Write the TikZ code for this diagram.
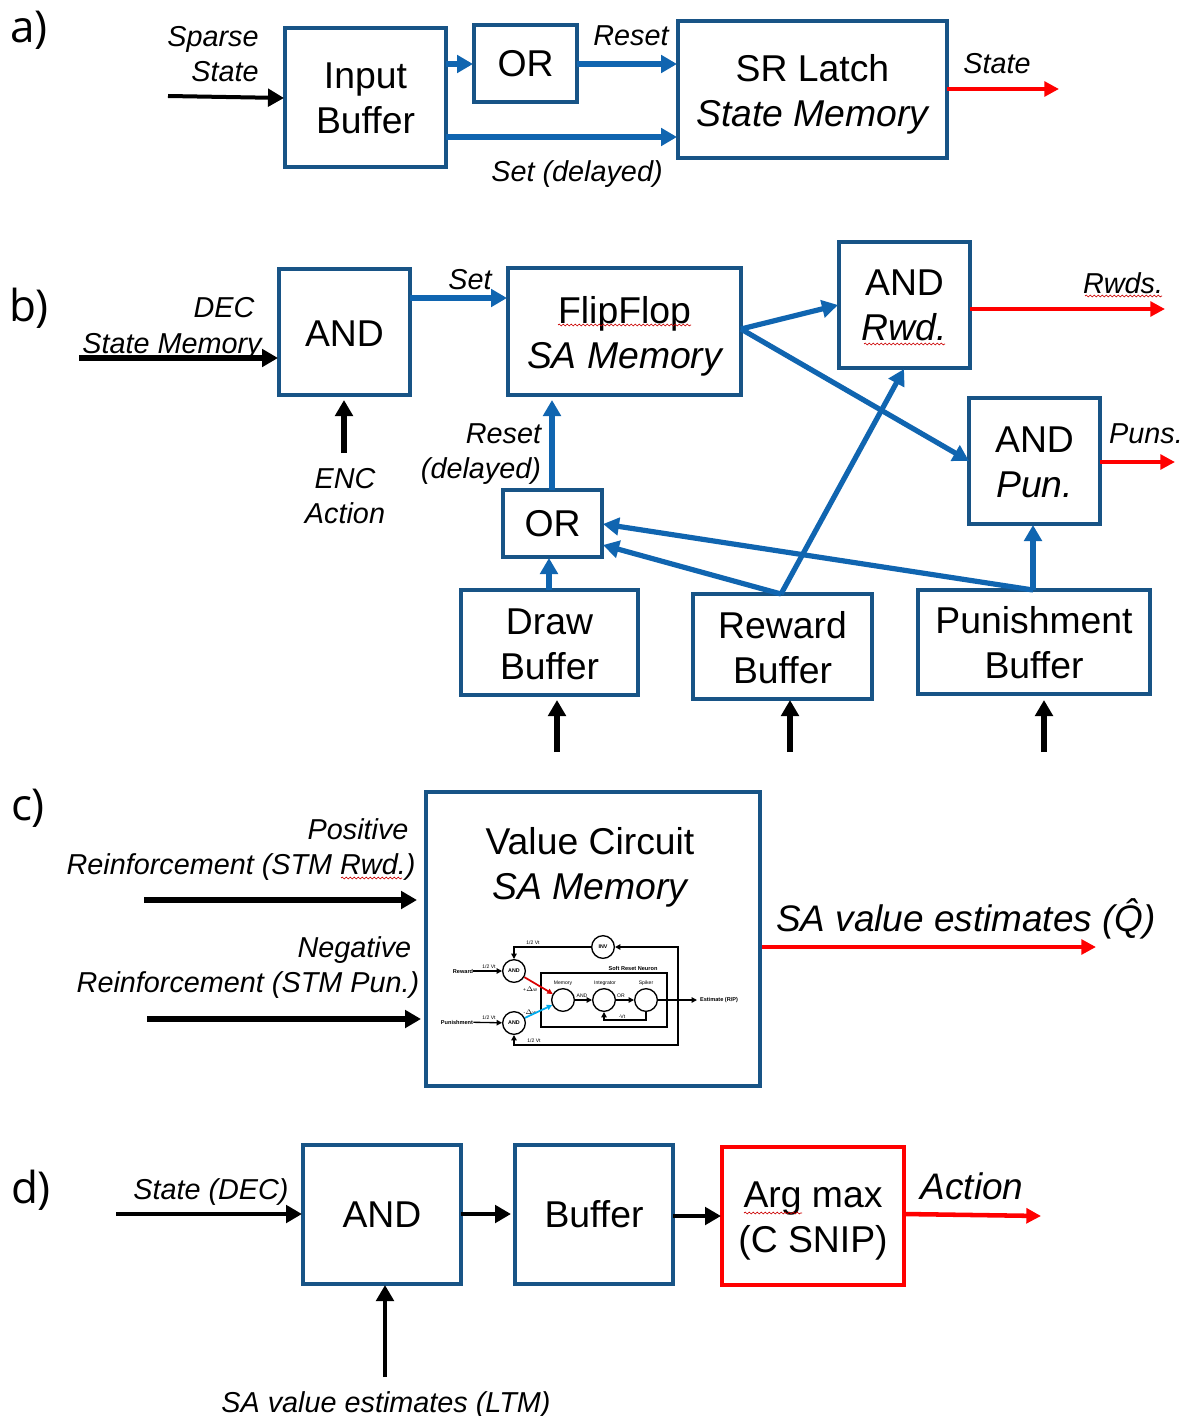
\documentclass[tikz,border=0pt]{standalone}
\usepackage{fontspec}
\setmainfont{Liberation Sans}
\newfontfamily\panelfont{Open Sans}
\usetikzlibrary{arrows.meta,decorations.pathmorphing}
\definecolor{boxblue}{RGB}{24,84,134}
\definecolor{arrblue}{RGB}{16,101,176}
\tikzset{
 x=0.75pt,y=-0.75pt,
 bx/.style={draw=boxblue,line width=2.4pt,inner sep=0pt,align=center,font=\fontsize{28}{33.7}\selectfont},
 rbx/.style={bx,draw=red},
 lbl/.style={inner sep=0pt,align=center,font=\fontsize{21.6}{26.2}\selectfont\itshape},
 lblr/.style={lbl,align=right},
 panel/.style={inner sep=0pt,font=\fontsize{33}{36}\selectfont\panelfont},
 barr/.style={line width=3.9pt,draw=arrblue,-{Triangle[length=12pt,width=13pt]}},
 karr/.style={line width=4pt,draw=black,-{Triangle[length=12pt,width=13pt]}},
 karrmid/.style={karr,line width=3.4pt},
 karrthin/.style={karr,line width=3pt},
 rarr/.style={line width=3.4pt,draw=red,-{Triangle[length=11pt,width=11pt]}},
 sq/.style={draw=red!80!black,line width=0.5pt,decorate,decoration={snake,amplitude=0.7pt,segment length=3pt}},
 inv/.style={circle,draw=black,line width=1pt,minimum size=17pt,inner sep=0pt,font=\fontsize{4}{4}\selectfont\bfseries},
 tiny/.style={inner sep=0pt,font=\fontsize{3.8}{4}\selectfont},
 tinyb/.style={inner sep=0pt,font=\fontsize{4.2}{4}\selectfont\bfseries},
 ia/.style={line width=1pt,-{Triangle[length=4pt,width=4pt]}},
 iac/.style={ia,line width=1.3pt},
}
\newcommand{\boxnode}[7][bx]{\node[#1,minimum width={(#5-#3)*0.75pt},minimum height={(#6-#4)*0.75pt}] (#2) at ({(#3+#5)/2},{(#4+#6)/2}) {#7};}
% lowers a box's text by #1 px (strut on the first line)
\newcommand{\dn}[1]{\rule{0pt}{\dimexpr 20.4pt+#1pt*3/2\relax}}
\begin{document}
\begin{tikzpicture}
\useasboundingbox (0,0) rectangle (1185,1416);
\fill[white] (0,0) rectangle (1185,1416);
% panel letters
\node[panel] (pa) at (29,30) {a)};
\node[panel] (pb) at (29,308) {b)};
\node[panel] (pc) at (28,808) {c)};
\node[panel] (pd) at (31,1190) {d)};
% (a)
\boxnode{ib}{285}{28}{446}{167}{\dn{0.5}Input\\Buffer}
\boxnode{ora}{474}{25}{577}{102}{OR}
\boxnode{sr}{678}{21}{947}{158}{\dn{5}SR Latch\\\itshape State Memory}
\node[lblr] (tsparse) at (213,54) {Sparse\\State};
\node[lbl] (treset) at (631,36) {Reset};
\node[lbl] (tset) at (577,174) {Set (delayed)};
\node[lbl] (tstate) at (997,64) {State};
\coordinate (a1) at (168,96); \coordinate (a2) at (284,98);
\coordinate (a3) at (446,64); \coordinate (a4) at (473,64);
\coordinate (a5) at (577,64); \coordinate (a6) at (677,64);
\coordinate (a7) at (446,137); \coordinate (a8) at (677,137);
\coordinate (a9) at (947,89); \coordinate (a10) at (1059,89);
\draw[karrthin] (a1) -- (a2);
\draw[barr] (a3) -- (a4);
\draw[barr] (a5) -- (a6);
\draw[barr] (a7) -- (a8);
\draw[rarr] (a9) -- (a10);
% (b)
\boxnode{andb}{279}{269}{410}{395}{\dn{1}AND}
\boxnode{ff}{508}{268}{741}{395}{\dn{4.5}FlipFlop\\\itshape SA Memory}
\boxnode{andr}{839}{242}{970}{368}{AND\\\itshape Rwd.}
\boxnode{andp}{969}{398}{1100}{524}{\dn{1}AND\\\itshape Pun.}
\boxnode{orb}{503}{490}{602}{557}{OR}
\boxnode{draw}{461}{590}{638}{695}{\dn{1}Draw\\Buffer}
\boxnode{rew}{693}{594}{872}{699}{\dn{1}Reward\\Buffer}
\boxnode{pun}{918}{590}{1150}{694}{\dn{1}Punishment\\Buffer}
\node[lbl] (tdec) at (224,308) {DEC};
\node[lbl] (tsm) at (172,346) {State Memory};
\node[lbl] (tenc) at (345,496) {ENC\\Action};
\node[lbl] (tsetb) at (470,280) {Set};
\node[lblr] (trd) at (481,454.5) {Reset\\(delayed)};
\node[lbl] (trwds) at (1123,283) {Rwds.};
\node[lbl] (tpuns) at (1146,434) {Puns.};
\coordinate (b1) at (79,358); \coordinate (b2) at (278,358);
\coordinate (b3) at (410,298); \coordinate (b4) at (507,298);
\coordinate (b5) at (344,453); \coordinate (b6) at (344,400);
\coordinate (b7) at (552,490); \coordinate (b8) at (552,400);
\coordinate (b9) at (741,329); \coordinate (b10) at (838,305);
\coordinate (b11) at (741,329); \coordinate (b12) at (969,461);
\coordinate (b13) at (970,309); \coordinate (b14) at (1165,309);
\coordinate (b15) at (1100,462); \coordinate (b16) at (1175,462);
\coordinate (b17) at (549,590); \coordinate (b18) at (549,558);
\coordinate (b19) at (781,594); \coordinate (b20) at (603,545);
\coordinate (b21) at (1033,590); \coordinate (b22) at (603,524);
\coordinate (b23) at (904,369);
\coordinate (b24) at (1033,525);
\coordinate (b25) at (557,752); \coordinate (b26) at (557,700);
\coordinate (b27) at (790,752); \coordinate (b28) at (790,700);
\coordinate (b29) at (1044,752); \coordinate (b30) at (1044,700);
\draw[karr] (b1) -- (b2);
\draw[barr] (b3) -- (b4);
\draw[karr] (b5) -- (b6);
\draw[barr] (b7) -- (b8);
\draw[barr] (b9) -- (b10);
\draw[barr] (b11) -- (b12);
\draw[rarr] (b13) -- (b14);
\draw[rarr] (b15) -- (b16);
\draw[barr] (b17) -- (b18);
\draw[barr] (b19) -- (b20);
\draw[barr] (b21) -- (b22);
\draw[barr] (b19) -- (b23);
\draw[barr] (b21) -- (b24);
\draw[karr] (b25) -- (b26);
\draw[karr] (b27) -- (b28);
\draw[karr] (b29) -- (b30);
% (c)
\boxnode{val}{426}{792}{760}{1086}{}
\node[inner sep=0pt,align=center,font=\fontsize{28}{33.7}\selectfont] (tval) at (590,867) {Value Circuit\\\itshape SA Memory};
\node[lblr] (tpos) at (241,850) {Positive\hspace*{5.2pt}\\Reinforcement (STM Rwd.)};
\node[lblr] (tneg) at (248,968) {Negative\hspace*{6pt}\\Reinforcement (STM Pun.)};
\node[inner sep=0pt,font=\fontsize{27.7}{30}\selectfont\itshape] (test) at (966,919) {SA value estimates (\^Q)};
\coordinate (c1) at (144,900); \coordinate (c2) at (417,900);
\coordinate (c3) at (147,1019); \coordinate (c4) at (421,1019);
\coordinate (c5) at (762,947); \coordinate (c6) at (1096,947);
\draw[karr] (c1) -- (c2);
\draw[karr] (c3) -- (c4);
\draw[rarr] (c5) -- (c6);
% inset
\node[inv] (iinv) at (603,947) {INV};
\node[inv] (iar) at (514,971) {AND};
\node[inv] (iap) at (514,1023) {AND};
\node[inv] (imem) at (563,1000) {\phantom{.}};
\node[inv] (iint) at (604,1000) {\phantom{.}};
\node[inv] (ispk) at (646,1000) {\phantom{.}};
\node[draw=black,line width=1pt,minimum width=94.5pt,minimum height=40.5pt,inner sep=0pt] (isr) at (604,1000) {\phantom{.}};
\node[tinyb] (tsrn) at (633,968) {Soft Reset Neuron};
\node[tinyb] (trw) at (463,971) {Reward};
\node[tinyb] (tpn) at (457,1022) {Punishment};
\node[tinyb] (tes) at (719,1000) {Estimate (R/P)};
\node[tiny] (t1) at (533,943) {1/2 Vt};
\node[tiny] (t2) at (489,967) {1/2 Vt};
\node[tiny] (t3) at (489,1018) {1/2 Vt};
\node[tiny] (t4) at (534,1041) {1/2 Vt};
\node[tiny] (t5) at (530,989) {+$\Delta$w};
\node[tiny] (t6) at (530,1012) {-$\Delta$w};
\node[tiny] (t7) at (563,983) {Memory};
\node[tiny] (t8) at (605,983) {Integrator};
\node[tiny] (t9) at (646,983) {Spiker};
\node[tiny] (t10) at (582,996) {AND};
\node[tiny] (t11) at (621,996) {OR};
\node[tiny] (t12) at (622,1017) {-Vt};
\coordinate (i1) at (678,1000); \coordinate (i2) at (678,947);
\coordinate (i3) at (678,1045); \coordinate (i4) at (514,1045);
\coordinate (i5) at (514,947); \coordinate (i6) at (697,1000);
\coordinate (i7) at (646,1020); \coordinate (i8) at (604,1020);
\draw[ia] (trw) -- (iar);
\draw[ia] (tpn) -- (iap);
\draw[ia] (iinv) -- (i5) -- (iar);
\draw[ia] (i1) -- (i2) -- (iinv);
\draw[ia] (i1) -- (i3) -- (i4) -- (iap);
\draw[iac,draw=red!85!black] (iar) -- (imem);
\draw[iac,draw=cyan] (iap) -- (imem);
\draw[ia] (imem) -- (iint);
\draw[ia] (iint) -- (ispk);
\draw[ia] (ispk) -- (i6);
\draw[ia] (ispk.south) -- (i7) -- (i8) -- (iint.south);
% (d)
\boxnode{andd}{303}{1145}{461}{1284}{AND}
\boxnode{buf}{515}{1145}{673}{1284}{Buffer}
\boxnode[rbx]{arg}{722}{1147}{904}{1285}{\dn{4}Arg max\\(C SNIP)}
\node[lbl] (tsd) at (211,1192) {State (DEC)};
\node[inner sep=0pt,font=\fontsize{27.7}{30}\selectfont\itshape] (tact) at (972,1186) {Action};
\node[lbl] (tsa) at (386,1405) {SA value estimates (LTM)};
\coordinate (d1) at (116,1214); \coordinate (d2) at (302,1214);
\coordinate (d3) at (461,1214); \coordinate (d4) at (511,1214);
\coordinate (d5) at (673,1216); \coordinate (d6) at (721,1216);
\coordinate (d7) at (904,1214); \coordinate (d8) at (1041,1216);
\coordinate (d9) at (385,1377); \coordinate (d10) at (385,1285);
\draw[karrthin] (d1) -- (d2);
\draw[karrmid] (d3) -- (d4);
\draw[karrmid] (d5) -- (d6);
\draw[rarr] (d7) -- (d8);
\draw[karrthin] (d9) -- (d10);
% spell-check squiggles
\coordinate (s1) at (558,325); \coordinate (s2) at (691,325);
\coordinate (s3) at (864,344); \coordinate (s4) at (945,344);
\coordinate (s5) at (1085,296); \coordinate (s6) at (1162,296);
\coordinate (s7) at (341,878); \coordinate (s8) at (402,878);
\coordinate (s9) at (744,1213); \coordinate (s10) at (802,1213);
\draw[sq] (s1) -- (s2);
\draw[sq] (s3) -- (s4);
\draw[sq] (s5) -- (s6);
\draw[sq] (s7) -- (s8);
\draw[sq] (s9) -- (s10);
\end{tikzpicture}
\end{document}
